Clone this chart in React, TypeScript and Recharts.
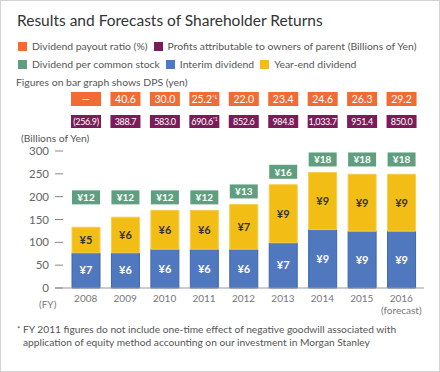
import { Bar, BarChart, LabelList, XAxis, YAxis } from 'recharts'

const YEARS = ['2008', '2009', '2010', '2011', '2012', '2013', '2014', '2015', '2016']
// amounts in billions of yen
const INTERIM_AMOUNT = [77, 77, 85, 85, 85, 99, 128, 124.5, 124.5]
const YEAR_END_AMOUNT = [56, 78, 85, 85, 98, 127, 125, 124.5, 124.5]
// dividend per share, yen
const INTERIM_DPS = [7, 6, 6, 6, 6, 7, 9, 9, 9]
const YEAR_END_DPS = [5, 6, 6, 6, 7, 9, 9, 9, 9]
const DPS = [12, 12, 12, 12, 13, 16, 18, 18, 18]
const PAYOUT = ['—', '40.6', '30.0', '25.2', '22.0', '23.4', '24.6', '26.3', '29.2']
const PROFITS = ['(256.9)', '388.7', '583.0', '690.6', '852.6', '984.8', '1,033.7', '951.4', '850.0']
const FOOTNOTE_YEAR = '2011'
const Y_TICKS = [0, 50, 100, 150, 200, 250, 300]

const ORANGE = '#f26b35'
const PURPLE = '#7d1b58'
const GREEN = '#5f9f7f'
const BLUE = '#4f78be'
const YELLOW = '#f2bd15'
const TEXT = '#555'
const FONT = 'Lato, "Open Sans", sans-serif'

const data = YEARS.map((year, i) => ({
  year,
  interim: INTERIM_AMOUNT[i],
  yearEnd: YEAR_END_AMOUNT[i],
  total: INTERIM_AMOUNT[i] + YEAR_END_AMOUNT[i],
}))

// DPS boxes sit above the tallest bar of a run of years with the same DPS
const groupTop = YEARS.map((_, i) => {
  let a = i
  let b = i
  while (a > 0 && DPS[a - 1] === DPS[i]) a--
  while (b < YEARS.length - 1 && DPS[b + 1] === DPS[i]) b++
  let m = 0
  for (let k = a; k <= b; k++) m = Math.max(m, data[k].total)
  return m
})

const YTick = (props: any) => {
  const { y, payload } = props
  return (
    <g>
      <text x={49} y={y} dy={4} textAnchor="end" fontSize={11.5} fill="#666" fontFamily={FONT}>
        {payload.value}
      </text>
      <line x1={55} x2={63} y1={y} y2={y} stroke="#888" strokeWidth={1} />
    </g>
  )
}

const XTick = (props: any) => {
  const { x, y, payload } = props
  return (
    <g>
      <text x={x} y={y} dy={6} textAnchor="middle" fontSize={10} fill="#777" fontFamily={FONT}>
        {payload.value}
      </text>
      {payload.value === '2016' && (
        <text x={x} y={y} dy={18} textAnchor="middle" fontSize={10} fill="#777" fontFamily={FONT}>
          (forecast)
        </text>
      )}
    </g>
  )
}

const SegLabel = (dpsList: number[], color: string) => (props: any) => {
  const { x, y, width, height, index } = props
  return (
    <text
      x={x + width / 2}
      y={y + height / 2}
      dy={4}
      textAnchor="middle"
      fontSize={11}
      fontWeight={700}
      fill={color}
      fontFamily={FONT}
    >
      ¥{dpsList[index]}
    </text>
  )
}

const Boxes = (props: any) => {
  const { x, y, width, height, index } = props
  const cx = x + width / 2
  const perUnit = height / data[index].yearEnd
  const gy = y - (groupTop[index] - data[index].total) * perUnit - 13
  const note = YEARS[index] === FOOTNOTE_YEAR
  return (
    <g fontFamily={FONT}>
      <rect x={cx - 14} y={gy - 7} width={28} height={14} fill={GREEN} />
      <text x={cx} y={gy} dy={4} textAnchor="middle" fontSize={10} fontWeight={700} fill="#fff">
        ¥{DPS[index]}
      </text>
      <rect x={cx - 15} y={92} width={30} height={14} fill={ORANGE} />
      <text x={cx} y={99} dy={4} textAnchor="middle" fontSize={10.5} fill="#fff">
        {PAYOUT[index]}
        {note && (
          <tspan fontSize={5} dy={-4}>
            *1
          </tspan>
        )}
      </text>
      <rect x={cx - 15} y={115} width={30} height={13} fill={PURPLE} />
      <text x={cx} y={121.5} dy={3.5} textAnchor="middle" fontSize={9} fill="#fff" letterSpacing={-0.3}>
        {PROFITS[index]}
        {note && (
          <tspan fontSize={5} dy={-4}>
            *1
          </tspan>
        )}
      </text>
    </g>
  )
}

const Swatch = ({ color, label }: { color: string; label: string }) => (
  <span style={{ display: 'inline-flex', alignItems: 'center', marginRight: 6 }}>
    <span style={{ width: 9, height: 9, background: color, marginRight: 5, display: 'inline-block' }} />
    {label}
  </span>
)

export default function App() {
  return (
    <div
      style={{
        position: 'absolute',
        left: 0,
        top: 0,
        width: 438,
        height: 370,
        border: '1px solid #d3d3d3',
        background: '#fff',
        fontFamily: FONT,
        color: TEXT,
        overflow: 'hidden',
      }}
    >
      <div style={{ position: 'absolute', left: 16, top: 10, fontSize: 15.5, color: '#333' }}>
        Results and Forecasts of Shareholder Returns
      </div>
      <div
        style={{ position: 'absolute', left: 17, top: 37, fontSize: 10.4, lineHeight: '17px', whiteSpace: 'nowrap' }}
      >
        <div>
          <Swatch color={ORANGE} label="Dividend payout ratio (%)" />
          <Swatch color={PURPLE} label="Profits attributable to owners of parent (Billions of Yen)" />
        </div>
        <div>
          <Swatch color={GREEN} label="Dividend per common stock" />
          <Swatch color={BLUE} label="Interim dividend" />
          <Swatch color={YELLOW} label="Year-end dividend" />
        </div>
        <div style={{ marginLeft: -2 }}>Figures on bar graph shows DPS (yen)</div>
      </div>
      <div style={{ position: 'absolute', left: 20, top: 131, fontSize: 10.3 }}>(Billions of Yen)</div>
      <div style={{ position: 'absolute', left: 38, top: 297, fontSize: 10, color: '#777' }}>(FY)</div>
      <div
        style={{
          position: 'absolute',
          left: 16,
          top: 322,
          fontSize: 10.2,
          lineHeight: '13px',
          whiteSpace: 'nowrap',
        }}
      >
        <div>
          <span style={{ fontSize: 8, verticalAlign: 'top' }}>*</span> FY 2011 figures do not include one-time effect
          of negative goodwill associated with
        </div>
        <div style={{ paddingLeft: 6 }}>
          application of equity method accounting on our investment in Morgan Stanley
        </div>
      </div>
      <div style={{ position: 'absolute', left: -1, top: -1 }}>
        <BarChart
          width={440}
          height={372}
          data={data}
          margin={{ top: 151, right: 16, bottom: 54, left: 0 }}
          barSize={28}
        >
          <XAxis
            dataKey="year"
            padding={{ left: 11, right: 3 }}
            tickLine={false}
            axisLine={{ stroke: '#999' }}
            tick={<XTick />}
            height={30}
            interval={0}
          />
          <YAxis
            domain={[0, 300]}
            ticks={Y_TICKS}
            width={55}
            axisLine={false}
            tickLine={false}
            tick={<YTick />}
            interval={0}
          />
          <Bar dataKey="interim" stackId="a" fill={BLUE} stroke="#3d66ad" isAnimationActive={false}>
            <LabelList content={SegLabel(INTERIM_DPS, '#fff')} />
          </Bar>
          <Bar dataKey="yearEnd" stackId="a" fill={YELLOW} stroke="#f5cd50" isAnimationActive={false}>
            <LabelList content={SegLabel(YEAR_END_DPS, '#333')} />
            <LabelList content={Boxes} />
          </Bar>
        </BarChart>
      </div>
    </div>
  )
}
